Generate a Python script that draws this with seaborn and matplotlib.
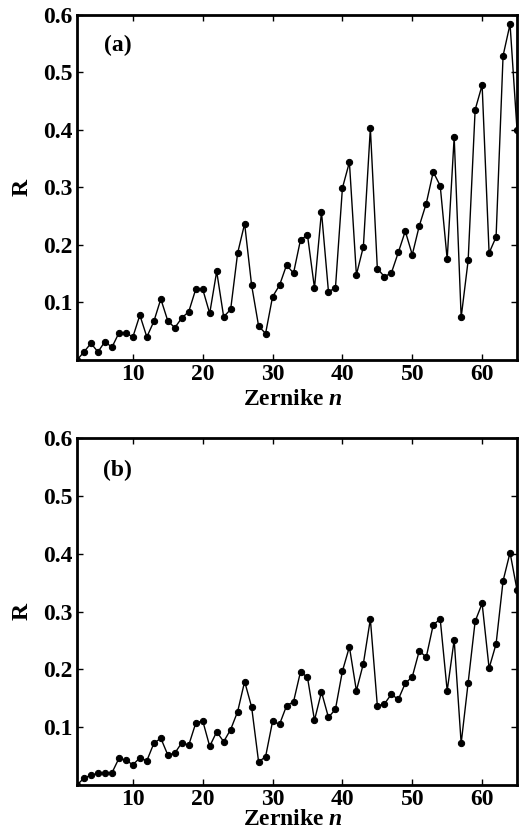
import numpy as np
import pandas as pd
import matplotlib
matplotlib.use("Agg")
import matplotlib.pyplot as plt
import seaborn as sns

# Zernike mode index
n_modes = list(range(2, 66))

# panel (a)
r_a = [0.0, 0.014, 0.029, 0.014, 0.032, 0.022, 0.047, 0.047, 0.040, 0.078,
       0.040, 0.067, 0.106, 0.068, 0.056, 0.073, 0.084, 0.123, 0.123, 0.081,
       0.154, 0.075, 0.088, 0.186, 0.237, 0.130, 0.059, 0.046, 0.110, 0.130,
       0.165, 0.151, 0.209, 0.217, 0.125, 0.258, 0.119, 0.125, 0.299, 0.344,
       0.148, 0.197, 0.403, 0.159, 0.145, 0.151, 0.187, 0.224, 0.183, 0.233,
       0.272, 0.327, 0.303, 0.175, 0.388, 0.074, 0.173, 0.435, 0.478, 0.186,
       0.214, 0.529, 0.584, 0.400]

# panel (b)
r_b = [0.0, 0.012, 0.017, 0.020, 0.021, 0.021, 0.046, 0.043, 0.035, 0.047,
       0.042, 0.072, 0.081, 0.052, 0.055, 0.073, 0.069, 0.107, 0.111, 0.067,
       0.092, 0.075, 0.096, 0.127, 0.179, 0.135, 0.040, 0.049, 0.110, 0.105,
       0.137, 0.144, 0.196, 0.186, 0.112, 0.161, 0.117, 0.131, 0.197, 0.239,
       0.163, 0.210, 0.287, 0.137, 0.140, 0.157, 0.148, 0.176, 0.187, 0.232,
       0.221, 0.277, 0.287, 0.163, 0.251, 0.072, 0.177, 0.283, 0.314, 0.202,
       0.244, 0.353, 0.402, 0.337]

y_ticks = [0.1, 0.2, 0.3, 0.4, 0.5, 0.6]
y_tick_labels = ["0.1", "0.2", "0.3", "0.4", "0.5", "0.6"]
x_ticks = [10, 20, 30, 40, 50, 60]

sns.set_style("ticks")
plt.rcParams['font.family'] = ['Liberation Serif', 'DejaVu Serif']
plt.rcParams['mathtext.fontset'] = 'custom'
plt.rcParams['mathtext.rm'] = 'Liberation Serif:bold'
plt.rcParams['mathtext.it'] = 'Liberation Serif:italic:bold'
plt.rcParams['mathtext.bf'] = 'Liberation Serif:bold'
for key in ['text.color', 'axes.labelcolor', 'xtick.color', 'ytick.color', 'axes.edgecolor']:
    plt.rcParams[key] = 'black'

df = pd.DataFrame({"n": n_modes + n_modes,
                   "R": r_a + r_b,
                   "panel": ["(a)"] * len(n_modes) + ["(b)"] * len(n_modes)})

fig = plt.figure(figsize=(5.22, 8.30), dpi=100)
ax_a = fig.add_axes([0.1475, 0.5663, 0.843, 0.4157])
ax_b = fig.add_axes([0.1475, 0.0542, 0.843, 0.418])

fs = 17
panels = [(ax_a, "(a)", 0.062, 0.913, -0.085), (ax_b, "(b)", 0.058, 0.908, -0.068)]
for ax, name, tx, ty, ly in panels:
    sns.lineplot(data=df[df["panel"] == name], x="n", y="R", ax=ax,
                 color="black", linewidth=1.0, marker="o", markersize=4.5,
                 markeredgecolor="black", markerfacecolor="black")
    ax.set_xlim(2, 65)
    ax.set_ylim(0, 0.6)
    ax.set_xticks(x_ticks)
    ax.set_yticks(y_ticks)
    ax.set_yticklabels(y_tick_labels)
    ax.tick_params(direction="in", top=True, right=True, length=4, width=1,
                   labelsize=fs, pad=3)
    for lab in ax.get_xticklabels() + ax.get_yticklabels():
        lab.set_fontweight("bold")
    for sp in ax.spines.values():
        sp.set_linewidth(2)
        sp.set_visible(True)
    ax.set_xlabel(r"Zernike $\mathit{n}$", fontsize=fs, fontweight="bold")
    ax.xaxis.set_label_coords(0.49, ly)
    ax.set_ylabel("R", fontsize=fs, fontweight="bold")
    ax.yaxis.set_label_coords(-0.1, 0.5)
    ax.text(tx, ty, name, transform=ax.transAxes, fontsize=fs, fontweight="bold",
            va="center", ha="left")

fig.savefig("out.png", dpi=100)
